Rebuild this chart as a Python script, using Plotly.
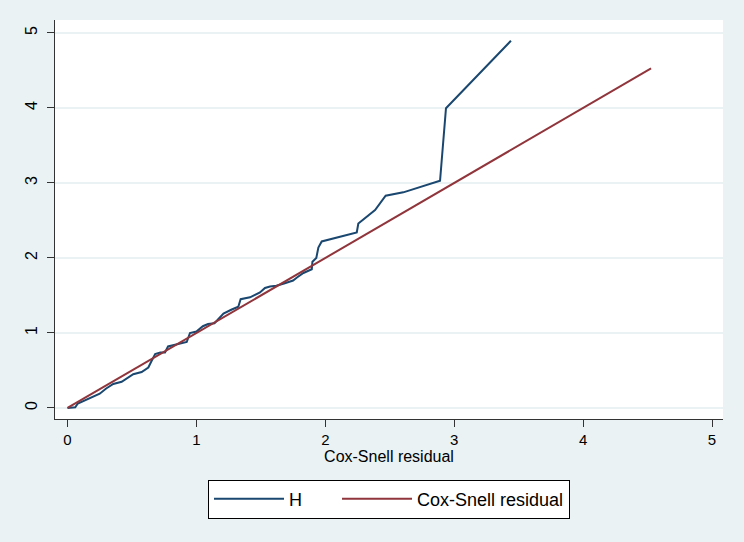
import plotly.graph_objects as go

# Nelson-Aalen cumulative hazard H vs Cox-Snell residual
h_x = [0.0, 0.06, 0.08, 0.12, 0.15, 0.20, 0.25, 0.30, 0.355, 0.42, 0.47, 0.51, 0.575,
       0.627, 0.653, 0.68, 0.72, 0.756, 0.78, 0.85, 0.925, 0.95, 1.0, 1.05, 1.09, 1.14,
       1.21, 1.27, 1.325, 1.343, 1.416, 1.493, 1.532, 1.571, 1.62, 1.68, 1.75, 1.78,
       1.83, 1.895, 1.90, 1.93, 1.946, 1.972, 2.244, 2.256, 2.386, 2.468, 2.605, 2.89,
       2.936, 3.44]
h_y = [0.0, 0.01, 0.06, 0.09, 0.12, 0.16, 0.19, 0.26, 0.32, 0.35, 0.41, 0.45, 0.48,
       0.54, 0.63, 0.72, 0.74, 0.74, 0.82, 0.85, 0.88, 1.0, 1.02, 1.09, 1.12, 1.13,
       1.26, 1.31, 1.35, 1.45, 1.476, 1.54, 1.60, 1.62, 1.63, 1.66, 1.70, 1.74,
       1.80, 1.85, 1.95, 2.0, 2.14, 2.22, 2.34, 2.46, 2.64, 2.83, 2.875, 3.03,
       3.996, 4.897]
ref_x = [0.0, 4.527]
ref_y = [0.0, 4.527]

x_ticks = [0, 1, 2, 3, 4, 5]
y_ticks = [0, 1, 2, 3, 4, 5]

bg = "#EAF2F3"
fig = go.Figure()
fig.add_trace(go.Scatter(x=h_x, y=h_y, mode="lines", name="H" + "\u00a0" * 6,
                         line=dict(color="#1a476f", width=2)))
fig.add_trace(go.Scatter(x=ref_x, y=ref_y, mode="lines", name="Cox-Snell residual",
                         line=dict(color="#90353b", width=2)))

font = dict(family="Liberation Sans, Arial, sans-serif", color="#000000")
fig.update_layout(
    width=744, height=542,
    margin=dict(l=55, r=21, t=20, b=123),
    paper_bgcolor=bg, plot_bgcolor="#FFFFFF",
    font=dict(size=15, **font),
    showlegend=True,
    legend=dict(orientation="h", x=0.5, xanchor="center", y=-0.152, yanchor="top",
                bgcolor="#FFFFFF", bordercolor="#000000", borderwidth=1,
                font=dict(size=18, **font), itemwidth=70, tracegroupgap=0),
    xaxis=dict(range=[-0.097, 5.085], tickvals=x_ticks, ticks="outside", ticklen=7,
               tickcolor="#333333", showline=True, linecolor="#333333", linewidth=1,
               showgrid=False, zeroline=False, tickfont=dict(size=15, **font),
               title=dict(text="Cox-Snell residual", font=dict(size=16, **font), standoff=0)),
    yaxis=dict(range=[-0.147, 5.173], tickvals=y_ticks, ticks="outside", ticklen=7,
               tickcolor="#333333", showline=True, linecolor="#333333", linewidth=1,
               showgrid=True, gridcolor=bg, gridwidth=1.5, zeroline=False,
               tickangle=-90, ticklabelstandoff=4, tickfont=dict(size=16, **font)),
)
fig.write_html("out.html")
